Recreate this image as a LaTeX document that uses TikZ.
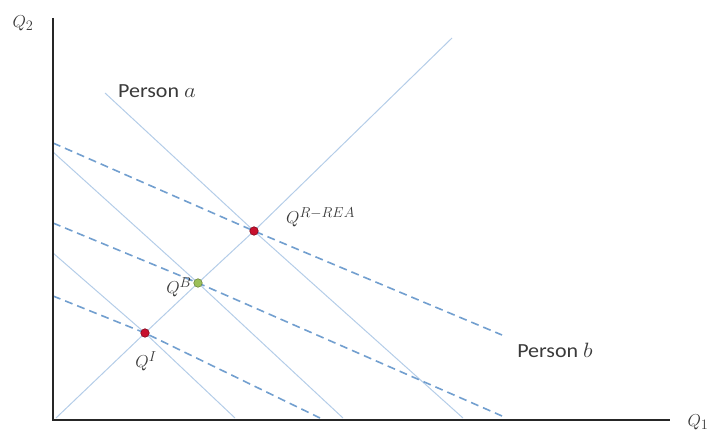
\documentclass[tikz,border=0pt]{standalone}
\usepackage{fontspec}
\setmainfont{Carlito}
\definecolor{blueA}{HTML}{B4CDE8}
\definecolor{blueB}{HTML}{729FCF}
\definecolor{dotR}{HTML}{C8102E}
\definecolor{dotG}{HTML}{9CC05A}
\definecolor{txtc}{HTML}{3A3A3A}
\begin{document}
\begin{tikzpicture}[x=1pt,y=-1pt,
  axis/.style={line width=2.6pt, black!85},
  indiffa/.style={line width=1pt, draw=blueA},
  indiffb/.style={line width=1.6pt, draw=blueB, dash pattern=on 8pt off 5pt},
  dotred/.style={circle, fill=dotR, draw=dotR!65!black, line width=0.6pt, inner sep=0pt, minimum size=8.5pt},
  dotgreen/.style={circle, fill=dotG, draw=dotG!70!black, line width=0.6pt, inner sep=0pt, minimum size=8.5pt},
  txt/.style={inner sep=0pt, text=txtc, font=\fontsize{20}{24}\selectfont},
  mlab/.style={inner sep=0pt, text=txtc, font=\fontsize{19}{22}\selectfont}]
\useasboundingbox (0,0) rectangle (715,435);
% key points
\coordinate (pR) at (254,231);
\coordinate (pB) at (198,283);
\coordinate (pI) at (145,333);
% ray from origin
\coordinate (o) at (56,418);
\coordinate (rayend) at (452,38);
\draw[indiffa] (o) -- (pI) -- (pB) -- (pR) -- (rayend);
% person a (solid)
\coordinate (s1a) at (105,93);  \coordinate (s1b) at (463,418);
\coordinate (s2a) at (53,152);  \coordinate (s2b) at (343,418);
\coordinate (s3a) at (53,253);  \coordinate (s3b) at (235,418);
\draw[indiffa] (s1a) -- (pR) -- (s1b);
\draw[indiffa] (s2a) -- (pB) -- (s2b);
\draw[indiffa] (s3a) -- (pI) -- (s3b);
% person b (dashed)
\coordinate (d1a) at (53,143);  \coordinate (d1b) at (502,335);
\coordinate (d2a) at (53,223);  \coordinate (d2b) at (502,416);
\coordinate (d3a) at (53,296);  \coordinate (d3b) at (320,418);
\draw[indiffb] (d1a) -- (pR) -- (d1b);
\draw[indiffb] (d2a) -- (pB) -- (d2b);
\draw[indiffb] (d3a) -- (pI) -- (d3b);
% axes
\coordinate (ytop) at (53,18);
\coordinate (orig) at (53,420);
\coordinate (xend) at (670,420);
\draw[axis] (ytop) -- (orig) -- (xend);
% dots
\node[dotred] (R) at (pR) {};
\node[dotgreen] (B) at (pB) {};
\node[dotred] (I) at (pI) {};
% labels
\node[mlab] (lq2) at (23,23) {$Q_2$};
\node[mlab] (lq1) at (698,422) {$Q_1$};
\node[txt] (pa) at (157,91) {\scalebox{1.1}[1]{Person $a$}};
\node[txt] (pb) at (555,350) {\scalebox{1.1}[1]{Person $b$}};
\node[mlab, anchor=west] (lR) at (286,217) {$Q^{R-REA}$};
\node[mlab] (lB) at (179,287) {$Q^{B}$};
\node[mlab] (lI) at (146,361) {$Q^{I}$};
\end{tikzpicture}
\end{document}
